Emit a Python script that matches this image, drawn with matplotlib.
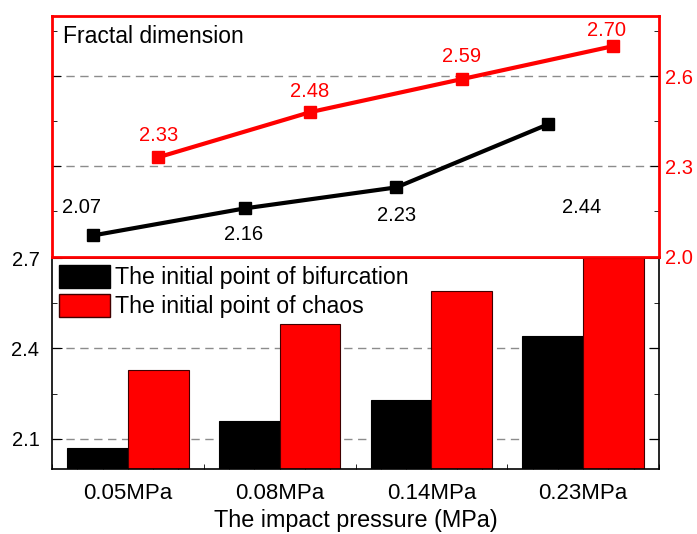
import numpy as np
import matplotlib
matplotlib.use("Agg")
import matplotlib.pyplot as plt
from matplotlib.patches import Patch
from matplotlib.ticker import FixedLocator, MultipleLocator

plt.rcParams["font.family"] = ["Liberation Sans", "DejaVu Sans"]

# --- data ---
categories = ["0.05MPa", "0.08MPa", "0.14MPa", "0.23MPa"]
bifurcation = [2.07, 2.16, 2.23, 2.44]
chaos = [2.33, 2.48, 2.59, 2.70]
series_names = ["The initial point of bifurcation", "The initial point of chaos"]

RED = "#ff0000"
GRID = "#8c8c8c"
W, H = 697, 534

fig = plt.figure(figsize=(W / 100, H / 100), dpi=100)
ax_bar = fig.add_axes([52 / W, 1 - 469 / H, 607 / W, (469 - 258) / H])
ax_top = fig.add_axes([52 / W, 1 - 256.5 / H, 607 / W, (256.5 - 16) / H])

x = np.arange(len(categories))

# ---------------- bottom panel: grouped bars ----------------
bw = 0.4
ax_bar.bar(x - bw / 2, bifurcation, bw, color="black", edgecolor="black",
           linewidth=0.8, zorder=2)
ax_bar.bar(x + bw / 2, chaos, bw, color=RED, edgecolor="#400000",
           linewidth=0.8, zorder=2)
for yv in [2.1, 2.4]:
    ax_bar.axhline(yv, color=GRID, lw=1, ls=(0, (6, 4)), zorder=0.5)

ax_bar.set_xlim(-0.5, 3.5)
ax_bar.set_ylim(2.0, 2.7)
ax_bar.set_yticks([2.1, 2.4, 2.7])
ax_bar.yaxis.set_minor_locator(FixedLocator([2.25, 2.55]))
ax_bar.tick_params(axis="y", which="both", direction="in", left=True, right=True,
                   labelsize=14.5, pad=9)
ax_bar.tick_params(axis="y", which="major", length=7)
ax_bar.tick_params(axis="y", which="minor", length=3.5)

ax_bar.xaxis.set_major_locator(FixedLocator(x + 1 / 3))
ax_bar.xaxis.set_minor_locator(MultipleLocator(1 / 6))
ax_bar.tick_params(axis="x", which="both", direction="in", labelbottom=False)
ax_bar.tick_params(axis="x", which="major", length=7.5)
ax_bar.tick_params(axis="x", which="minor", length=3.5)
for sp in ax_bar.spines.values():
    sp.set_linewidth(1.2)

sec = ax_bar.secondary_xaxis("bottom")
sec.set_xticks(x, labels=categories)
sec.tick_params(length=0, labelsize=16, pad=10)
sec.spines["bottom"].set_visible(False)
sec.set_xlabel("The impact pressure (MPa)", fontsize=16.8, labelpad=4)

handles = [Patch(facecolor="black", edgecolor="black"),
           Patch(facecolor=RED, edgecolor="#400000")]
ax_bar.legend(handles, series_names, loc="upper left", frameon=False,
              fontsize=16.7, handlelength=2.2, handleheight=1.15,
              handletextpad=0.22, labelspacing=0.2, borderpad=0.05,
              borderaxespad=0.25)

# ---------------- top panel: fractal dimension lines ----------------
ax_top.patch.set_alpha(0)
for yv in [2.3, 2.6]:
    ax_top.axhline(yv, color=GRID, lw=1, ls=(0, (6, 4)), zorder=0.5)

ax_top.plot(x - 0.23, bifurcation, color="black", lw=3, marker="s", ms=9, zorder=3)
ax_top.plot(x + 0.2, chaos, color=RED, lw=3, marker="s", ms=9, zorder=3)

ax_top.set_xlim(-0.5, 3.5)
ax_top.set_ylim(2.0, 2.8)
ax_top.set_xticks([])
ax_top.set_yticks([2.0, 2.3, 2.6])
ax_top.yaxis.set_minor_locator(FixedLocator([2.15, 2.45, 2.75]))
ax_top.tick_params(axis="y", which="both", direction="in", left=True, right=True,
                   labelleft=False, labelright=True, labelcolor=RED, color="black",
                   labelsize=14.5, pad=4.5)
ax_top.tick_params(axis="y", which="major", length=6.5)
ax_top.tick_params(axis="y", which="minor", length=3.5)
for sp in ax_top.spines.values():
    sp.set_color(RED)
    sp.set_linewidth(2)

ax_top.text(0.018, 0.915, "Fractal dimension", transform=ax_top.transAxes,
            fontsize=16.5, va="center", ha="left")

# value labels (offsets in points)
black_offsets = [(-8, 20), (-1, -19), (0, -20), (24, -60)]
for xi, v, off in zip(x - 0.23, bifurcation, black_offsets):
    ax_top.annotate(f"{v:.2f}", (xi, v), xytext=off, textcoords="offset points",
                    ha="center", va="center", fontsize=14.5, color="black")
red_offsets = [(0, 16), (0, 15), (0, 16), (-5, 11)]
for xi, v, off in zip(x + 0.2, chaos, red_offsets):
    ax_top.annotate(f"{v:.2f}", (xi, v), xytext=off, textcoords="offset points",
                    ha="center", va="center", fontsize=14.5, color=RED)

fig.savefig("out.png", dpi=100)
